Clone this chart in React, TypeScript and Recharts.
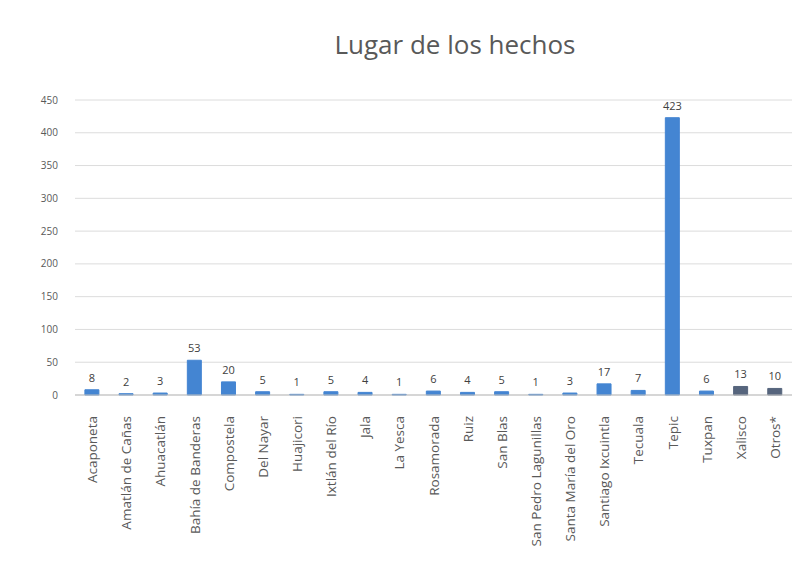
import { BarChart, Bar, XAxis, YAxis, CartesianGrid, LabelList, Cell } from "recharts";

const municipios = [
  "Acaponeta",
  "Amatlán de Cañas",
  "Ahuacatlán",
  "Bahía de Banderas",
  "Compostela",
  "Del Nayar",
  "Huajicori",
  "Ixtlán del Río",
  "Jala",
  "La Yesca",
  "Rosamorada",
  "Ruiz",
  "San Blas",
  "San Pedro Lagunillas",
  "Santa María del Oro",
  "Santiago Ixcuintla",
  "Tecuala",
  "Tepic",
  "Tuxpan",
  "Xalisco",
  "Otros*",
];

const casos = [8, 2, 3, 53, 20, 5, 1, 5, 4, 1, 6, 4, 5, 1, 3, 17, 7, 423, 6, 13, 10];

const yTicks = [0, 50, 100, 150, 200, 250, 300, 350, 400, 450];

const data = municipios.map((m, i) => ({ lugar: m, total: casos[i] }));

// las dos últimas barras se ven más oscuras en la imagen
const colorBarra = (lugar: string) =>
  lugar === "Xalisco" || lugar === "Otros*" ? "#56657d" : "#4485d2";

// Etiqueta vertical del eje X (se lee de abajo hacia arriba)
const VerticalTick = (props: any) => {
  const { x, y, payload } = props;
  return (
    <g transform={`translate(${x},${y})`}>
      <text
        transform="rotate(-90)"
        x={-13}
        y={5}
        textAnchor="end"
        fontSize={13.5}
        fill="#595959"
        fontFamily="'Open Sans', sans-serif"
      >
        {payload.value}
      </text>
    </g>
  );
};

export default function App() {
  return (
    <div style={{ position: "absolute", left: 0, top: 0, width: 798, height: 565, background: "#fff" }}>
      <div
        style={{
          position: "absolute",
          left: 0,
          width: 910,
          top: 26,
          textAlign: "center",
          fontFamily: "'Open Sans', sans-serif",
          fontSize: 26,
          color: "#595959",
        }}
      >
        Lugar de los hechos
      </div>
      <BarChart
        width={798}
        height={565}
        data={data}
        margin={{ top: 100, right: 6, bottom: 5, left: 15 }}
        barCategoryGap="29%"
      >
        <CartesianGrid vertical={false} stroke="#dcdcdc" />
        <XAxis
          dataKey="lugar"
          interval={0}
          height={165}
          tick={<VerticalTick />}
          tickLine={false}
          axisLine={{ stroke: "#bfbfbf" }}
        />
        <YAxis
          domain={[0, 450]}
          ticks={yTicks}
          width={60}
          axisLine={false}
          tickLine={false}
          tickMargin={11}
          tick={{ fontSize: 10, fill: "#595959", fontFamily: "'Open Sans', sans-serif" }}
        />
        <Bar dataKey="total" isAnimationActive={false}>
          {data.map((d) => (
            <Cell key={d.lugar} fill={colorBarra(d.lugar)} stroke={colorBarra(d.lugar)} />
          ))}
          <LabelList
            dataKey="total"
            position="top"
            offset={8}
            style={{ fontSize: 11, fill: "#404040", fontFamily: "'Open Sans', sans-serif" }}
          />
        </Bar>
      </BarChart>
    </div>
  );
}
